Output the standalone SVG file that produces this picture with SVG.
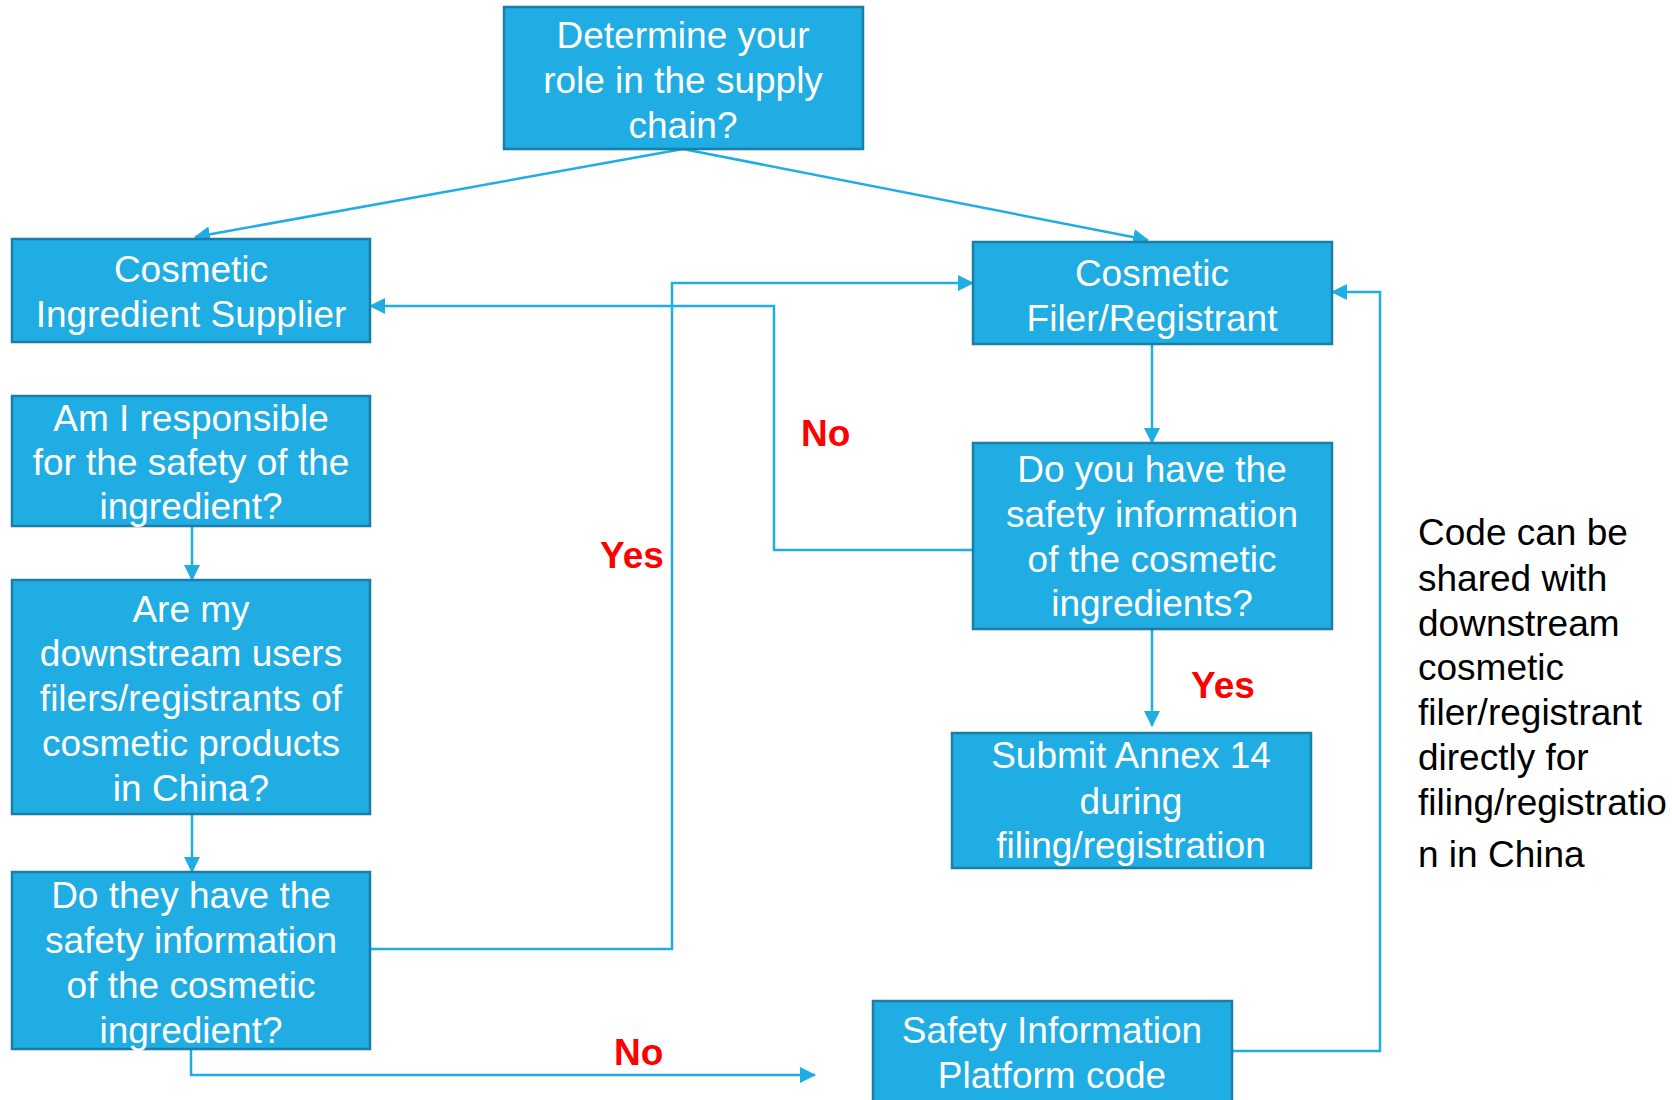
<svg xmlns="http://www.w3.org/2000/svg" width="1672" height="1100" viewBox="0 0 1672 1100">
<style>
.box{fill:#1FADE3;stroke:#1B7EA6;stroke-width:2.5}
.t{font-family:"Liberation Sans",Arial,Helvetica,sans-serif;font-size:37px;fill:#FFFFFF;text-anchor:middle}
.c{fill:none;stroke:#1FADE3;stroke-width:2.5}
.lbl{font-family:"Liberation Sans",Arial,Helvetica,sans-serif;font-size:37px;font-weight:bold;fill:#FF0000}
.note{font-family:"Liberation Sans",Arial,Helvetica,sans-serif;font-size:37px;fill:#000000}
</style>
<defs>
<marker id="ah" markerUnits="userSpaceOnUse" markerWidth="16" markerHeight="16" viewBox="0 0 16 16" refX="15" refY="8" orient="auto">
<path d="M0,0 L16,8 L0,16 Z" fill="#1FADE3"/>
</marker>
</defs>
<rect width="1672" height="1100" fill="#FFFFFF"/>
<g id="connectors">
<path class="c" d="M683,149 L195,237" marker-end="url(#ah)"/>
<path class="c" d="M683,149 L1148,240" marker-end="url(#ah)"/>
<path class="c" d="M192,526 L192,580" marker-end="url(#ah)"/>
<path class="c" d="M192,814 L192,872" marker-end="url(#ah)"/>
<path class="c" d="M370,949 L672,949 L672,283 L973,283" marker-end="url(#ah)"/>
<path class="c" d="M973,550 L774,550 L774,306 L370,306" marker-end="url(#ah)"/>
<path class="c" d="M1152,344 L1152,443" marker-end="url(#ah)"/>
<path class="c" d="M1152,629 L1152,726" marker-end="url(#ah)"/>
<path class="c" d="M1232,1051 L1380,1051 L1380,292 L1332,292" marker-end="url(#ah)"/>
<path class="c" d="M191,1049 L191,1075 L815,1075" marker-end="url(#ah)"/>
</g>
<g id="labels">
<text class="lbl" x="801" y="446">No</text>
<text class="lbl" x="600" y="568">Yes</text>
<text class="lbl" x="1191" y="698">Yes</text>
<text class="lbl" x="614" y="1065">No</text>
</g>
<g id="n-role">
<rect class="box" x="504" y="7" width="359" height="142"/>
<text class="t" x="683" y="48">Determine your</text>
<text class="t" x="683" y="93">role in the supply</text>
<text class="t" x="683" y="138">chain?</text>
</g>
<g id="n-supplier">
<rect class="box" x="12" y="239" width="358" height="103"/>
<text class="t" x="191" y="282">Cosmetic</text>
<text class="t" x="191" y="327">Ingredient Supplier</text>
</g>
<g id="n-responsible">
<rect class="box" x="12" y="396" width="358" height="130"/>
<text class="t" x="191" y="431">Am I responsible</text>
<text class="t" x="191" y="475">for the safety of the</text>
<text class="t" x="191" y="519">ingredient?</text>
</g>
<g id="n-downstream">
<rect class="box" x="12" y="580" width="358" height="234"/>
<text class="t" x="191" y="622">Are my</text>
<text class="t" x="191" y="666">downstream users</text>
<text class="t" x="191" y="711">filers/registrants of</text>
<text class="t" x="191" y="756">cosmetic products</text>
<text class="t" x="191" y="801">in China?</text>
</g>
<g id="n-they-have">
<rect class="box" x="12" y="872" width="358" height="177"/>
<text class="t" x="191" y="908">Do they have the</text>
<text class="t" x="191" y="953">safety information</text>
<text class="t" x="191" y="998">of the cosmetic</text>
<text class="t" x="191" y="1043">ingredient?</text>
</g>
<g id="n-filer">
<rect class="box" x="973" y="242" width="359" height="102"/>
<text class="t" x="1152" y="286">Cosmetic</text>
<text class="t" x="1152" y="331">Filer/Registrant</text>
</g>
<g id="n-you-have">
<rect class="box" x="973" y="443" width="359" height="186"/>
<text class="t" x="1152" y="482">Do you have the</text>
<text class="t" x="1152" y="527">safety information</text>
<text class="t" x="1152" y="572">of the cosmetic</text>
<text class="t" x="1152" y="616">ingredients?</text>
</g>
<g id="n-submit">
<rect class="box" x="952" y="733" width="359" height="135"/>
<text class="t" x="1131" y="768">Submit Annex 14</text>
<text class="t" x="1131" y="814">during</text>
<text class="t" x="1131" y="858">filing/registration</text>
</g>
<g id="n-platform">
<rect class="box" x="873" y="1001" width="359" height="110"/>
<text class="t" x="1052" y="1043">Safety Information</text>
<text class="t" x="1052" y="1088">Platform code</text>
</g>
<g id="note">
<text class="note" x="1418" y="545">Code can be</text>
<text class="note" x="1418" y="591">shared with</text>
<text class="note" x="1418" y="636">downstream</text>
<text class="note" x="1418" y="680">cosmetic</text>
<text class="note" x="1418" y="725">filer/registrant</text>
<text class="note" x="1418" y="770">directly for</text>
<text class="note" x="1418" y="815">filing/registratio</text>
<text class="note" x="1418" y="867">n in China</text>
</g>
</svg>
